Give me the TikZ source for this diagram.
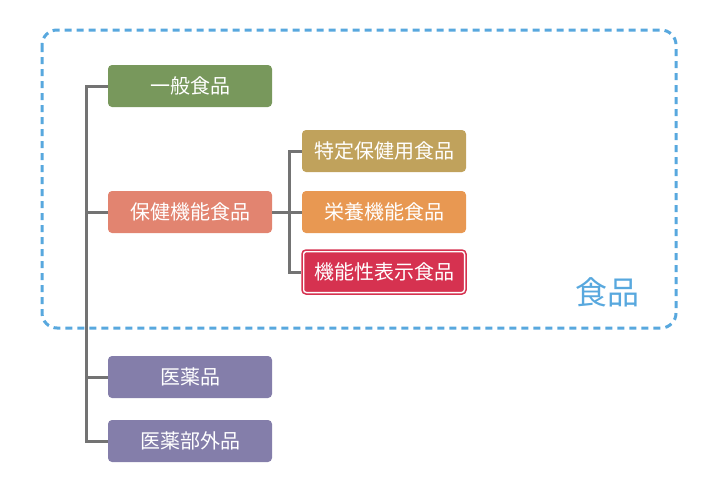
\documentclass[tikz,border=0pt]{standalone}
\usepackage{fontspec}
\setmainfont{Noto Sans CJK JP}
\begin{document}
\begin{tikzpicture}[x=1pt,y=-1pt,
  box/.style={rounded corners=4pt,minimum width=164pt,minimum height=42pt,text=white,font=\fontsize{20}{22}\selectfont,inner sep=0pt},
  ln/.style={draw=gray!90!black,line width=3pt}]
\definecolor{cgreen}{RGB}{120,152,92}
\definecolor{csalmon}{RGB}{226,132,112}
\definecolor{ctan}{RGB}{192,162,92}
\definecolor{corange}{RGB}{232,152,82}
\definecolor{cred}{RGB}{214,50,80}
\definecolor{cpurple}{RGB}{132,126,170}
\definecolor{cblue}{RGB}{88,168,222}
\useasboundingbox (0,0) rectangle (708,479);
\draw[cblue,line width=3pt,dash pattern=on 7pt off 5pt,rounded corners=15pt] (42,30) rectangle (676,328);
\node[text=cblue,font=\fontsize{32}{34}\selectfont] (shoku) at (607,292) {食品};
\node[box,fill=cgreen] (ippan) at (190,86) {一般食品};
\node[box,fill=csalmon] (hoken) at (190,212) {保健機能食品};
\node[box,fill=ctan] (tokutei) at (384,151) {特定保健用食品};
\node[box,fill=corange] (eiyou) at (384,212) {栄養機能食品};
\node[box,fill=cred,draw=white,line width=1.5pt,double=cred,double distance=1.5pt,minimum height=44pt] (kinou) at (384,272) {機能性表示食品};
\node[box,fill=cpurple] (iyaku) at (190,377) {医薬品};
\node[box,fill=cpurple] (bugai) at (190,441) {医薬部外品};
\coordinate (sp) at (86,0);
\coordinate (sp2) at (289,0);
\draw[ln] (ippan.west) -| (sp |- bugai.west) -- (bugai.west);
\draw[ln] (sp |- hoken.west) -- (hoken.west);
\draw[ln] (sp |- iyaku.west) -- (iyaku.west);
\draw[ln] (tokutei.west) -| (sp2 |- kinou.west) -- (kinou.west);
\draw[ln] (hoken.east) -- (eiyou.west);
\end{tikzpicture}
\end{document}
